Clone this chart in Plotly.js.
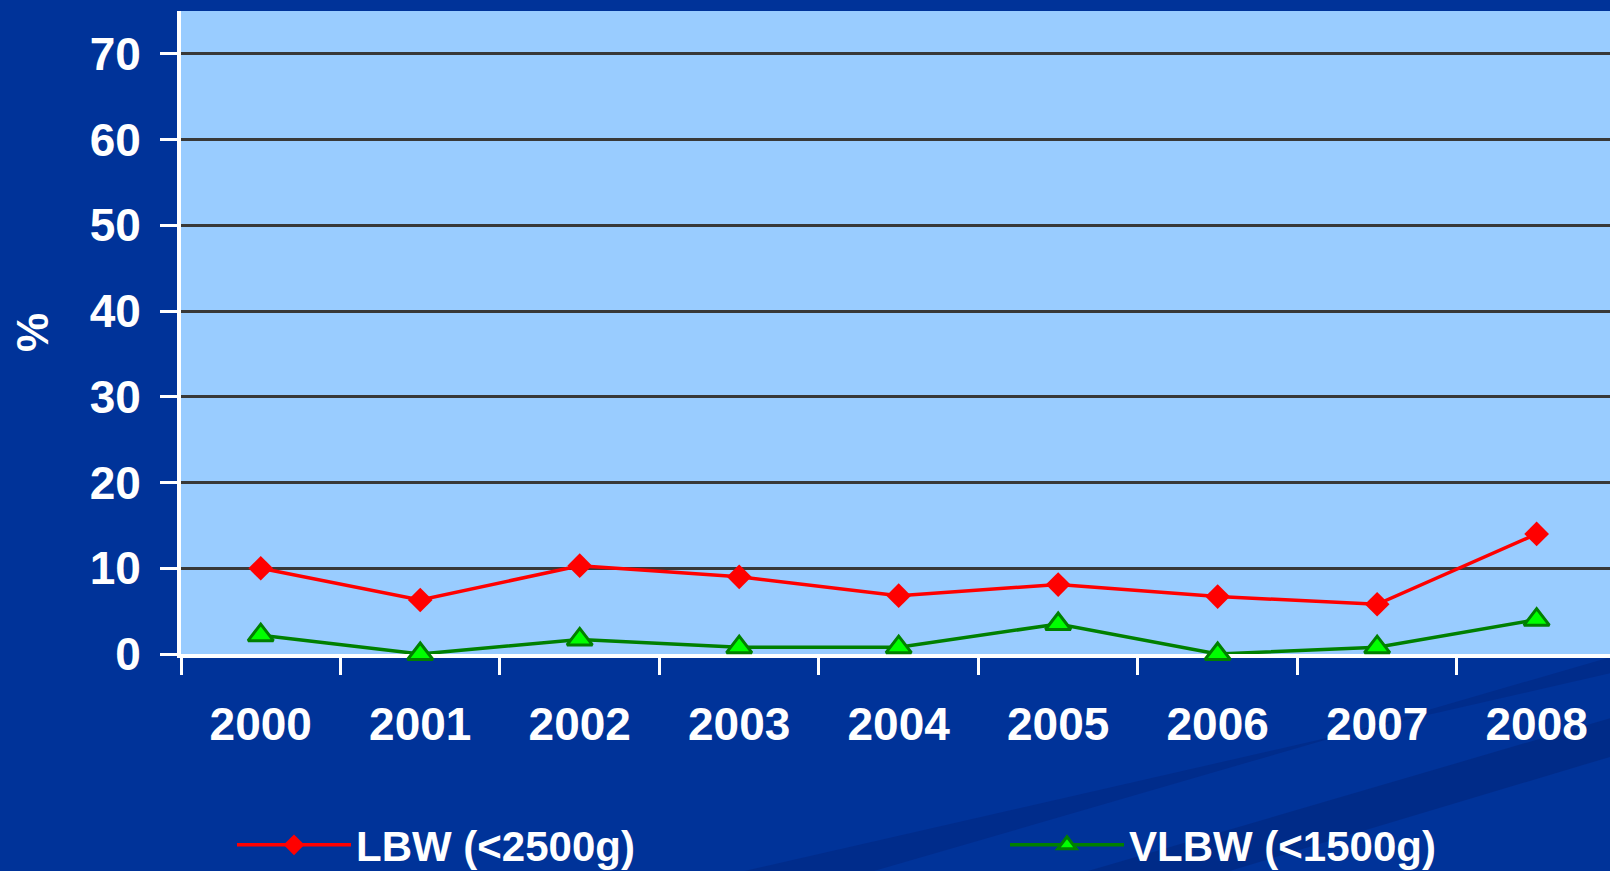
<!DOCTYPE html>
<html><head><meta charset="utf-8">
<script src="https://cdn.plot.ly/plotly-3.0.1.min.js"></script>
<style>html,body{margin:0;padding:0;background:#003399;overflow:hidden;} #chart{width:1610px;height:871px;}</style>
</head><body><div id="chart"></div>
<script>
const years = ['2000','2001','2002','2003','2004','2005','2006','2007','2008'];
const lbw = [10.0, 6.3, 10.3, 9.0, 6.8, 8.1, 6.7, 5.8, 14.0];
const vlbw = [2.2, 0.0, 1.7, 0.8, 0.8, 3.5, 0.0, 0.8, 4.0];
const seriesNames = ['LBW (<2500g)', 'VLBW (<1500g)'];
const yTickVals = [0, 10, 20, 30, 40, 50, 60, 70];
const yTitle = '%';

const FONT = '"Liberation Sans", Arial, sans-serif';

const traces = [
  {
    x: years, y: lbw, name: seriesNames[0], type: 'scatter', mode: 'lines+markers',
    line: {color: '#FF0000', width: 3.5},
    marker: {symbol: 'diamond', size: 19, color: '#FF0000', line: {color: '#FF0000', width: 0}},
    cliponaxis: false, legend: 'legend'
  },
  {
    x: years, y: vlbw, name: seriesNames[1], type: 'scatter', mode: 'lines+markers',
    line: {color: '#008000', width: 3.5},
    marker: {symbol: 'triangle-up', size: 22, color: '#00FF00', line: {color: '#008000', width: 3}},
    cliponaxis: false, legend: 'legend2'
  }
];

const legendCommon = {
  orientation: 'h',
  xref: 'container', yref: 'container',
  xanchor: 'left',
  y: 26/871, yanchor: 'middle',
  bgcolor: 'rgba(0,0,0,0)',
  font: {family: FONT, size: 42, color: '#FFFFFF', weight: 'bold'},
  itemwidth: 114
};

const layout = {
  width: 1610, height: 871,
  margin: {l: 181, r: 0, t: 11, b: 217, pad: 0},
  paper_bgcolor: '#003399',
  plot_bgcolor: '#99CCFF',
  font: {family: FONT, color: '#FFFFFF'},
  showlegend: true,
  xaxis: {
    type: 'category',
    range: [-0.5, 8.46],
    tickson: 'boundaries',
    ticks: 'outside', ticklen: 17, tickwidth: 3, tickcolor: '#FFFFFF',
    showline: true, linecolor: '#FFFFFF', linewidth: 4,
    showgrid: false, zeroline: false,
    tickfont: {family: FONT, size: 46, color: '#FFFFFF', weight: 'bold'},
    ticklabelstandoff: 27,
    layer: 'below traces',
    fixedrange: true
  },
  yaxis: {
    range: [0, 75],
    tickvals: yTickVals,
    ticktext: yTickVals.map(String),
    ticks: 'outside', ticklen: 17, tickwidth: 3, tickcolor: '#FFFFFF',
    showline: true, linecolor: '#FFFFFF', linewidth: 4,
    showgrid: true, gridcolor: '#383838', gridwidth: 3,
    zeroline: false,
    tickfont: {family: FONT, size: 46, color: '#FFFFFF', weight: 'bold'},
    ticklabelstandoff: 10,
    title: {text: yTitle, font: {family: FONT, size: 44, color: '#FFFFFF', weight: 'bold'}, standoff: 28},
    layer: 'below traces',
    fixedrange: true
  },
  legend: Object.assign({}, legendCommon, {x: 232/1610}),
  legend2: Object.assign({}, legendCommon, {x: 1005/1610}),
  shapes: [
    {type: 'path', xref: 'paper', yref: 'paper', layer: 'below',
     path: 'M 0.35,-0.36 L 1.0,-0.03 L 1.0,-0.005 L 0.45,-0.36 Z',
     fillcolor: 'rgba(0,25,100,0.25)', line: {width: 0}},
    {type: 'path', xref: 'paper', yref: 'paper', layer: 'below',
     path: 'M 0.6,-0.36 L 1.0,-0.1 L 1.0,-0.16 L 0.7,-0.36 Z',
     fillcolor: 'rgba(0,25,100,0.3)', line: {width: 0}}
  ]
};

Plotly.newPlot('chart', traces, layout, {displayModeBar: false, staticPlot: true});
</script>
</body></html>
